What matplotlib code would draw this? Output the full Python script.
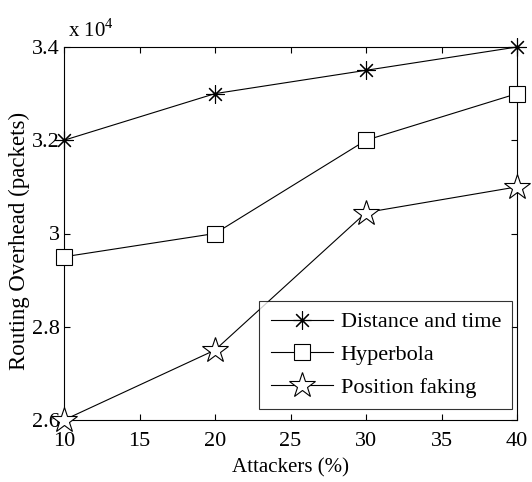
import matplotlib.pyplot as plt
import numpy as np

attackers = [10, 20, 30, 40]
distance_time = [32000, 33000, 33500, 34000]
hyperbola = [29500, 30000, 32000, 33000]
position_faking = [26000, 27500, 30450, 31000]

plt.rcParams['font.family'] = ['Liberation Serif', 'DejaVu Serif']
plt.rcParams['mathtext.fontset'] = 'custom'
plt.rcParams['mathtext.rm'] = 'Liberation Serif'

fig = plt.figure(figsize=(5.32, 4.82), dpi=100)
ax = fig.add_axes([64 / 532, 62 / 482, 453 / 532, 373 / 482])

scale = 1e4
ax.plot(attackers, np.array(distance_time) / scale, color='black', lw=0.8,
        marker=(8, 2, 0), markersize=13, markeredgewidth=0.8, clip_on=False,
        label='Distance and time', zorder=3)
ax.plot(attackers, np.array(hyperbola) / scale, color='black', lw=0.8,
        marker='s', markersize=11, markerfacecolor='white', markeredgewidth=0.8,
        clip_on=False, label='Hyperbola', zorder=3)
ax.plot(attackers, np.array(position_faking) / scale, color='black', lw=0.8,
        marker='*', markersize=19, markerfacecolor='white', markeredgewidth=0.8,
        clip_on=False, label='Position faking', zorder=3)

ax.set_xlim(10, 40)
ax.set_ylim(2.6, 3.4)
ax.set_xticks([10, 15, 20, 25, 30, 35, 40])
ax.set_yticks([2.6, 2.8, 3.0, 3.2, 3.4])
ax.yaxis.set_major_formatter(plt.FormatStrFormatter('%g'))
ax.tick_params(direction='in', length=4, width=0.8, top=True, right=True,
               labelsize=16)
ax.tick_params(axis='x', pad=9)
ax.tick_params(axis='y', pad=3)
for s in ax.spines.values():
    s.set_linewidth(0.8)

ax.set_xlabel('Attackers (%)', fontsize=15, labelpad=5)
ax.set_ylabel('Routing Overhead (packets)', fontsize=16.5)
ax.yaxis.set_label_coords(-0.075, 0.48)
ax.text(0.008, 1.015, r'x 10$^{4}$', transform=ax.transAxes, fontsize=15,
        ha='left', va='bottom')

leg = ax.legend(loc='lower right', bbox_to_anchor=(448 / 453, 11 / 373),
                borderaxespad=0, fontsize=16, frameon=True, fancybox=False,
                edgecolor='black', handlelength=2.8, labelspacing=0.55,
                handletextpad=0.35, borderpad=0.5)
leg.get_frame().set_linewidth(0.8)

fig.savefig('out.png', dpi=100)
